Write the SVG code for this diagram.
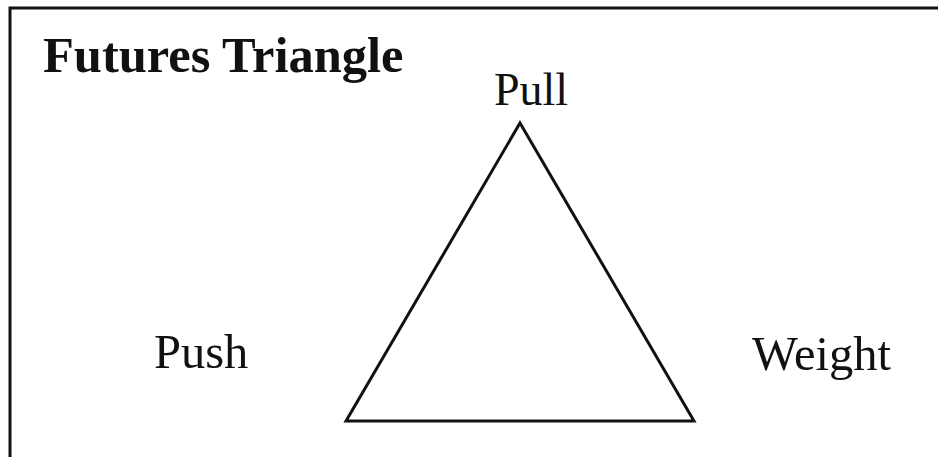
<svg xmlns="http://www.w3.org/2000/svg" width="938" height="457" viewBox="0 0 938 457">
<style>
.lbl{font-family:"Liberation Serif","Times New Roman",serif;fill:#111;}
.title{font-weight:bold;font-size:50.5px;}
.corner{font-size:48.5px;}
.frame{fill:none;stroke:#111;stroke-width:3;}
.tri{fill:none;stroke:#111;stroke-width:3;stroke-linejoin:miter;}
</style>
<rect width="938" height="457" fill="#fff"/>
<g id="frame"><path class="frame" d="M10 458 V8 H938"/></g>
<g id="title"><text class="lbl title" x="43" y="72">Futures Triangle</text></g>
<g id="connectors"><polygon class="tri" points="520,123 694,421 346,421"/></g>
<g id="pull"><text class="lbl corner" x="494" y="105" style="font-size:46px">Pull</text></g>
<g id="push"><text class="lbl corner" x="154" y="368">Push</text></g>
<g id="weight"><text class="lbl corner" x="752" y="370">Weight</text></g>
</svg>
